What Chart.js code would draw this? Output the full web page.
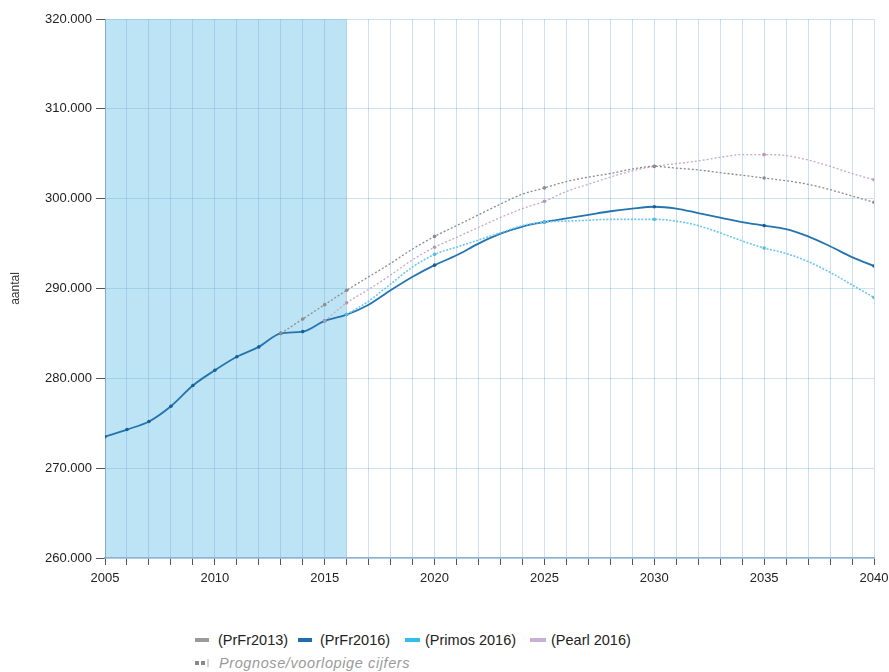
<!DOCTYPE html>
<html>
<head>
<meta charset="utf-8">
<script src="https://cdn.jsdelivr.net/npm/chart.js@4"></script>
<style>
  html,body{margin:0;padding:0;background:#fff;}
  #wrap{position:relative;width:889px;height:672px;font-family:"Liberation Sans",Arial,sans-serif;}
  #cv{position:absolute;left:0;top:0;}
  .t{position:absolute;font-size:14.5px;line-height:18px;color:#222;white-space:nowrap;}
  .sw{position:absolute;height:4px;}
</style>
</head>
<body>
<div id="wrap">
  <canvas id="cv" width="889" height="600"></canvas>
  <div class="sw" style="left:195px;top:638px;width:14px;background:#9a9a9a"></div>
  <div class="t" style="left:218px;top:631px;">(PrFr2013)</div>
  <div class="sw" style="left:298px;top:638px;width:14px;background:#1f6fb0"></div>
  <div class="t" style="left:320px;top:631px;">(PrFr2016)</div>
  <div class="sw" style="left:405px;top:638px;width:15px;background:#33bdeb"></div>
  <div class="t" style="left:425px;top:631px;">(Primos 2016)</div>
  <div class="sw" style="left:530px;top:638px;width:16px;background:#c9afd3"></div>
  <div class="t" style="left:551px;top:631px;">(Pearl 2016)</div>
  <div class="sw" style="left:195px;top:661px;width:4px;background:#8a8a8a"></div>
  <div class="sw" style="left:201px;top:661px;width:4px;background:#8a8a8a"></div>
  <div class="sw" style="left:207px;top:659px;width:2px;height:8px;background:#d6d6d6"></div>
  <div class="t" style="left:219px;top:654px;color:#9a9a9a;font-style:italic;letter-spacing:0.6px;">Prognose/voorlopige cijfers</div>
</div>
<script>
const years = [2005,2006,2007,2008,2009,2010,2011,2012,2013,2014,2015,2016,2017,2018,2019,2020,2021,2022,2023,2024,2025,2026,2027,2028,2029,2030,2031,2032,2033,2034,2035,2036,2037,2038,2039,2040];
const prfr2016 = [273.5,274.3,275.2,276.9,279.2,280.9,282.4,283.5,285.0,285.2,286.4,287.1,288.2,289.8,291.3,292.6,293.7,295.0,296.1,296.9,297.4,297.8,298.2,298.6,298.9,299.1,298.9,298.4,297.9,297.4,297.0,296.6,295.8,294.7,293.5,292.5];
const prfr2013 = [null,null,null,null,null,null,null,null,285.0,286.6,288.2,289.8,291.3,292.8,294.4,295.8,297.0,298.2,299.4,300.5,301.2,301.9,302.4,302.8,303.3,303.6,303.4,303.2,302.9,302.6,302.3,302.0,301.6,301.0,300.3,299.6];
const primos2016 = [null,null,null,null,null,null,null,null,null,null,null,287.1,288.6,290.5,292.4,293.8,294.6,295.4,296.2,297.0,297.4,297.5,297.6,297.7,297.7,297.7,297.5,297.0,296.2,295.3,294.5,293.9,293.0,291.8,290.4,289.0];
const pearl2016 = [null,null,null,null,null,null,null,null,null,null,286.4,288.4,289.9,291.5,293.2,294.6,295.7,296.8,297.9,298.9,299.7,300.8,301.6,302.4,303.1,303.6,303.9,304.2,304.6,304.9,304.9,304.8,304.3,303.6,302.8,302.1];
const realizedEnd = 2016;
const yTicks = [260000,270000,280000,290000,300000,310000,320000];

function pts(arr){ return years.map((y,i)=>({x:y, y: arr[i]===null?null:arr[i]*1000})); }
function radiusFn(ctx){ const p=ctx.raw; if(!p) return 0; return (p.x%5===0 || p.x<=realizedEnd) ? 1.8 : 0; }

const shade = {
  id:'shade',
  beforeDraw(chart){
    const {ctx, chartArea:a, scales:{x}} = chart;
    const x0 = x.getPixelForValue(years[0]), x1 = x.getPixelForValue(realizedEnd);
    ctx.save(); ctx.fillStyle='#bde4f4'; ctx.fillRect(x0, a.top, x1-x0, a.bottom-a.top); ctx.restore();
  }
};

new Chart(document.getElementById('cv'), {
  type:'line',
  data:{ datasets:[
    {label:'(PrFr2013)', data:pts(prfr2013), borderColor:'#8c8c8c', backgroundColor:'#8c8c8c', borderWidth:1.3, borderDash:[2,2], pointRadius:radiusFn, pointBorderWidth:0, cubicInterpolationMode:'monotone', spanGaps:false},
    {label:'(Pearl 2016)', data:pts(pearl2016), borderColor:'#c6a9c6', backgroundColor:'#b896b8', borderWidth:1.3, borderDash:[2,2], pointRadius:radiusFn, pointBorderWidth:0, cubicInterpolationMode:'monotone'},
    {label:'(Primos 2016)', data:pts(primos2016), borderColor:'#6cc8ea', backgroundColor:'#4fbde6', borderWidth:1.6, borderDash:[2,1.5], pointRadius:radiusFn, pointBorderWidth:0, cubicInterpolationMode:'monotone'},
    {label:'(PrFr2016)', data:pts(prfr2016), borderColor:'#2474b0', backgroundColor:'#1d5f94', borderWidth:1.8, pointRadius:radiusFn, pointBorderWidth:0, cubicInterpolationMode:'monotone'}
  ]},
  options:{
    responsive:false, animation:false,
    layout:{padding:{top:19,right:15,left:0,bottom:0}},
    plugins:{legend:{display:false}, tooltip:{enabled:false}},
    scales:{
      x:{type:'linear', min:2005, max:2040,
        afterFit(s){ s.height = 42; s.paddingLeft = 0; s.paddingRight = 0; },
        ticks:{stepSize:1, autoSkip:false, maxRotation:0, color:'#222', font:{family:'Liberation Sans', size:13}, padding:6,
          callback:(v)=> v%5===0 ? String(v) : ''},
        grid:{color:'rgba(110,165,215,0.35)', lineWidth:1, drawTicks:true, tickLength:7, tickColor:'#555'},
        border:{color:'#8fb2d6', width:1.5}
      },
      y:{min:260000, max:320000,
        afterFit(s){ s.width = 105; s.paddingTop = 0; s.paddingBottom = 0; },
        afterBuildTicks(s){ s.ticks = yTicks.map(v=>({value:v})); },
        title:{display:true, text:'aantal', color:'#333', font:{family:'Liberation Sans', size:12}, padding:{top:8,bottom:0}},
        ticks:{color:'#222', font:{family:'Liberation Sans', size:13}, padding:4,
          callback:(v)=> (v/1000).toFixed(0)+'.000'},
        grid:{color:'rgba(110,175,215,0.35)', lineWidth:1, drawTicks:true, tickLength:9, tickColor:'#555'},
        border:{color:'#8aa6c4', width:1}
      }
    }
  },
  plugins:[shade]
});
</script>
</body>
</html>
